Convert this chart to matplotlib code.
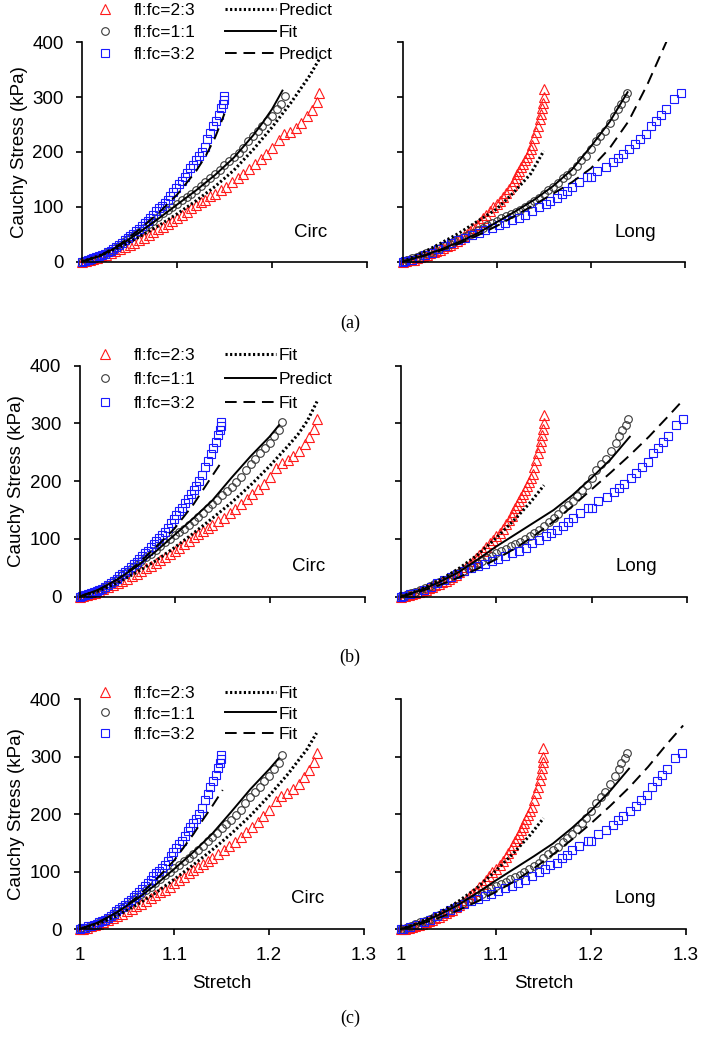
import numpy as np
import matplotlib.pyplot as plt

plt.rcParams['font.family'] = ['Liberation Sans', 'DejaVu Sans']

# ---------------- measured data (same in all three rows) ----------------
# circumferential direction
red_circ_s = [1.000, 1.004, 1.008, 1.012, 1.016, 1.020, 1.025, 1.030, 1.035, 1.040, 1.045, 1.050,
              1.055, 1.060, 1.065, 1.070, 1.075, 1.080, 1.085, 1.090, 1.095, 1.100, 1.105, 1.110,
              1.115, 1.120, 1.125, 1.130, 1.135, 1.140, 1.146, 1.152, 1.158, 1.164, 1.170, 1.176,
              1.182, 1.188, 1.194, 1.200, 1.207, 1.213, 1.219, 1.225, 1.231, 1.237, 1.242, 1.247, 1.250]
red_circ_y = [0, 1, 3, 5, 7, 10, 13, 16, 20, 23, 27, 31,
              35, 40, 44, 49, 54, 59, 64, 69, 74, 80, 85, 91,
              97, 103, 108, 113, 119, 124, 131, 137, 145, 152, 160, 169,
              178, 187, 196, 208, 222, 232, 237, 244, 252, 265, 276, 291, 307]

black_circ_s = [1.000, 1.005, 1.010, 1.015, 1.020, 1.025, 1.030, 1.035, 1.040, 1.045, 1.050, 1.055,
                1.060, 1.065, 1.070, 1.075, 1.080, 1.085, 1.090, 1.095, 1.100, 1.105, 1.110, 1.115,
                1.120, 1.125, 1.130, 1.135, 1.140, 1.145, 1.150, 1.155, 1.160, 1.165, 1.170, 1.175,
                1.180, 1.185, 1.190, 1.195, 1.200, 1.205, 1.210, 1.2134]
black_circ_y = [0, 2, 4, 7, 11, 15, 20, 25, 31, 37, 43, 49,
                55, 61, 68, 74, 81, 88, 94, 100, 106, 112, 118, 124,
                131, 138, 145, 153, 160, 168, 176, 183, 190, 198, 208, 220,
                229, 238, 248, 257, 266, 279, 288, 303]

blue_circ_s = [1.000, 1.003, 1.006, 1.009, 1.012, 1.015, 1.018, 1.021, 1.024, 1.027, 1.030, 1.033,
               1.036, 1.039, 1.042, 1.045, 1.048, 1.051, 1.054, 1.057, 1.060, 1.063, 1.066, 1.069,
               1.072, 1.075, 1.078, 1.081, 1.084, 1.087, 1.090, 1.093, 1.096, 1.099, 1.102, 1.105,
               1.108, 1.111, 1.114, 1.117, 1.120, 1.123, 1.126, 1.129, 1.132, 1.135, 1.138, 1.141,
               1.144, 1.146, 1.148, 1.149, 1.149]
blue_circ_y = [0, 2, 3, 5, 6, 8, 10, 12, 14, 17, 20, 23,
               27, 31, 35, 39, 43, 47, 51, 56, 60, 65, 70, 75,
               80, 86, 92, 97, 102, 107, 112, 119, 127, 134, 141, 148,
               154, 162, 170, 177, 185, 192, 200, 210, 224, 235, 247, 257,
               268, 280, 288, 295, 303]

# longitudinal direction
red_long_s = [1.000, 1.004, 1.008, 1.012, 1.015, 1.019, 1.022, 1.026, 1.029, 1.033, 1.036, 1.040,
              1.043, 1.047, 1.050, 1.054, 1.058, 1.061, 1.065, 1.068, 1.072, 1.075, 1.079, 1.082,
              1.086, 1.089, 1.093, 1.096, 1.100, 1.104, 1.107, 1.110, 1.113, 1.116, 1.118, 1.120,
              1.122, 1.124, 1.126, 1.128, 1.130, 1.132, 1.134, 1.136, 1.138, 1.140, 1.142, 1.144,
              1.146, 1.147, 1.148, 1.149, 1.150, 1.150]
red_long_y = [0, 1, 3, 4, 6, 8, 10, 12, 15, 17, 20, 22,
              25, 28, 31, 34, 38, 42, 47, 51, 56, 61, 67, 73,
              79, 86, 93, 99, 105, 111, 118, 126, 133, 140, 147, 153,
              159, 165, 172, 178, 185, 191, 198, 205, 213, 225, 236, 248,
              260, 270, 280, 290, 300, 315]

black_long_s = [1.000, 1.005, 1.010, 1.015, 1.020, 1.025, 1.030, 1.035, 1.040, 1.045, 1.050, 1.055,
                1.060, 1.065, 1.070, 1.075, 1.080, 1.085, 1.090, 1.095, 1.100, 1.105, 1.110, 1.115,
                1.120, 1.125, 1.130, 1.135, 1.140, 1.145, 1.150, 1.155, 1.160, 1.165, 1.170, 1.175,
                1.180, 1.185, 1.190, 1.195, 1.200, 1.205, 1.210, 1.215, 1.220, 1.225, 1.229, 1.232,
                1.236, 1.238]
black_long_y = [0, 3, 6, 9, 12, 15, 18, 22, 25, 29, 33, 37,
                41, 45, 49, 53, 58, 62, 67, 71, 75, 79, 83, 87,
                91, 95, 100, 105, 110, 116, 123, 130, 137, 143, 152, 158,
                166, 174, 185, 193, 206, 220, 230, 239, 252, 266, 279, 288,
                298, 307]

blue_long_s = [1.000, 1.0025, 1.0096, 1.017, 1.024, 1.031, 1.038, 1.045, 1.052, 1.059, 1.0665, 1.0737,
               1.081, 1.088, 1.095, 1.102, 1.1093, 1.1164, 1.1235, 1.1306, 1.1377, 1.145, 1.152, 1.157,
               1.1637, 1.1697, 1.175, 1.180, 1.1875, 1.1964, 1.200, 1.207, 1.216, 1.2231, 1.2285, 1.2338,
               1.241, 1.247, 1.2527, 1.2587, 1.264, 1.2694, 1.2747, 1.280, 1.288, 1.2954]
blue_long_y = [0, 1, 4, 7, 12, 16, 23, 29, 34, 39, 44, 49,
               53, 57, 62, 66, 71, 76, 80, 85, 93, 99, 105, 111,
               116, 123, 129, 137, 145, 154, 154, 166, 172, 181, 189, 196,
               205, 215, 224, 233, 248, 257, 268, 279, 297, 307]

# ---------------- model curves ----------------
# (a)
a_circ_dot_s = [1.0, 1.02, 1.04, 1.06, 1.08, 1.10, 1.12, 1.14, 1.16, 1.18, 1.20, 1.22, 1.24, 1.25]
a_circ_dot_y = [0, 12, 27, 45, 65, 87, 111, 137, 167, 204, 245, 290, 340, 370]
a_circ_sol_s = [1.0, 1.02, 1.04, 1.06, 1.08, 1.10, 1.12, 1.14, 1.16, 1.18, 1.19, 1.20, 1.211]
a_circ_sol_y = [0, 11, 30, 53, 78, 104, 130, 158, 190, 230, 253, 278, 312]
a_circ_dash_s = [1.0, 1.02, 1.04, 1.06, 1.08, 1.10, 1.12, 1.13, 1.14, 1.15]
a_circ_dash_y = [0, 12, 32, 58, 88, 122, 165, 192, 226, 270]
a_long_dot_s = [1.0, 1.02, 1.04, 1.06, 1.08, 1.09, 1.10, 1.118, 1.136, 1.15]
a_long_dot_y = [0, 15, 33, 52, 74, 85, 96, 126, 160, 202]
a_long_sol_s = [1.0, 1.02, 1.04, 1.06, 1.08, 1.10, 1.12, 1.14, 1.16, 1.18, 1.20, 1.22, 1.239]
a_long_sol_y = [0, 10, 22, 36, 52, 72, 92, 113, 138, 168, 210, 255, 309]
a_long_dash_s = [1.0, 1.02, 1.04, 1.06, 1.08, 1.10, 1.12, 1.14, 1.16, 1.18, 1.20, 1.22, 1.24, 1.26, 1.28, 1.283]
a_long_dash_y = [0, 9, 20, 33, 48, 65, 84, 104, 124, 145, 170, 207, 256, 323, 400, 415]
# (b)
b_circ_dot_s = [1.0, 1.02, 1.04, 1.06, 1.08, 1.10, 1.12, 1.14, 1.16, 1.18, 1.20, 1.22, 1.23, 1.24, 1.25]
b_circ_dot_y = [0, 10, 24, 42, 62, 85, 110, 136, 163, 193, 226, 262, 281, 305, 338]
b_circ_sol_s = [1.0, 1.02, 1.04, 1.06, 1.08, 1.10, 1.12, 1.14, 1.16, 1.18, 1.20, 1.21]
b_circ_sol_y = [0, 12, 30, 52, 78, 107, 136, 167, 206, 243, 277, 297]
b_circ_dash_s = [1.0, 1.02, 1.04, 1.06, 1.08, 1.10, 1.12, 1.13, 1.14, 1.151]
b_circ_dash_y = [0, 12, 30, 55, 85, 118, 160, 185, 210, 237]
b_long_dot_s = [1.0, 1.02, 1.04, 1.06, 1.08, 1.10, 1.12, 1.136, 1.15]
b_long_dot_y = [0, 12, 28, 48, 72, 102, 135, 164, 193]
b_long_sol_s = [1.0, 1.02, 1.04, 1.06, 1.08, 1.10, 1.12, 1.14, 1.16, 1.18, 1.20, 1.22, 1.24]
b_long_sol_y = [0, 11, 25, 42, 64, 87, 108, 129, 150, 176, 206, 238, 277]
b_long_dash_s = [1.0, 1.02, 1.04, 1.06, 1.08, 1.10, 1.12, 1.14, 1.16, 1.18, 1.20, 1.22, 1.24, 1.26, 1.28, 1.295]
b_long_dash_y = [0, 9, 20, 33, 48, 65, 84, 106, 130, 157, 186, 215, 245, 277, 312, 339]
# (c)
c_circ_dot_s = [1.0, 1.02, 1.04, 1.06, 1.08, 1.10, 1.12, 1.14, 1.16, 1.18, 1.20, 1.22, 1.24, 1.25]
c_circ_dot_y = [0, 10, 24, 42, 63, 87, 112, 138, 166, 197, 232, 270, 313, 341]
c_circ_sol_s = [1.0, 1.02, 1.04, 1.06, 1.08, 1.10, 1.12, 1.14, 1.16, 1.18, 1.20, 1.21]
c_circ_sol_y = [0, 12, 30, 52, 77, 105, 134, 166, 204, 243, 278, 297]
c_circ_dash_s = [1.0, 1.02, 1.04, 1.06, 1.08, 1.10, 1.12, 1.13, 1.14, 1.151]
c_circ_dash_y = [0, 12, 30, 55, 85, 120, 165, 190, 214, 242]
c_long_dot_s = [1.0, 1.02, 1.04, 1.06, 1.08, 1.10, 1.12, 1.136, 1.15]
c_long_dot_y = [0, 12, 28, 48, 72, 102, 135, 164, 193]
c_long_sol_s = [1.0, 1.02, 1.04, 1.06, 1.08, 1.10, 1.12, 1.14, 1.16, 1.18, 1.20, 1.22, 1.24]
c_long_sol_y = [0, 11, 25, 42, 63, 85, 106, 127, 149, 176, 206, 240, 279]
c_long_dash_s = [1.0, 1.02, 1.04, 1.06, 1.08, 1.10, 1.12, 1.14, 1.16, 1.18, 1.20, 1.22, 1.24, 1.26, 1.28, 1.297]
c_long_dash_y = [0, 9, 20, 33, 48, 65, 84, 106, 130, 156, 184, 214, 246, 282, 322, 354]

group_labels = ['fl:fc=2:3', 'fl:fc=1:1', 'fl:fc=3:2']
line_labels = [['Predict', 'Fit', 'Predict'],
               ['Fit', 'Predict', 'Fit'],
               ['Fit', 'Fit', 'Fit']]
panel_tags = ['(a)', '(b)', '(c)']
xticks = [1.0, 1.1, 1.2, 1.3]
xtick_labels = ['1', '1.1', '1.2', '1.3']
yticks = [0, 100, 200, 300, 400]

circ_lines = [
    [(a_circ_dot_s, a_circ_dot_y), (a_circ_sol_s, a_circ_sol_y), (a_circ_dash_s, a_circ_dash_y)],
    [(b_circ_dot_s, b_circ_dot_y), (b_circ_sol_s, b_circ_sol_y), (b_circ_dash_s, b_circ_dash_y)],
    [(c_circ_dot_s, c_circ_dot_y), (c_circ_sol_s, c_circ_sol_y), (c_circ_dash_s, c_circ_dash_y)],
]
long_lines = [
    [(a_long_dot_s, a_long_dot_y), (a_long_sol_s, a_long_sol_y), (a_long_dash_s, a_long_dash_y)],
    [(b_long_dot_s, b_long_dot_y), (b_long_sol_s, b_long_sol_y), (b_long_dash_s, b_long_dash_y)],
    [(c_long_dot_s, c_long_dot_y), (c_long_sol_s, c_long_sol_y), (c_long_dash_s, c_long_dash_y)],
]

# ---------------- styling ----------------
RED = '#ff1a1a'
BLUE = '#1a1aff'
GREY = '#3a3a3a'
mk_styles = [dict(marker='^', ms=6.5, mec=RED), dict(marker='o', ms=5.5, mec=GREY),
             dict(marker='s', ms=5.5, mec=BLUE)]
ln_styles = [dict(ls=(0, (0.7, 0.8)), lw=2.2), dict(ls='-', lw=1.4), dict(ls=(0, (6, 3.5)), lw=1.4)]

W, H = 701, 1049
fig = plt.figure(figsize=(W / 100, H / 100), dpi=100)

# pixel boxes: (left x0, left x1, right x0, right x1, y top, y bottom)
boxes = [(82, 367, 402.5, 685, 42.3, 261.7),
         (79.5, 364.5, 401, 687, 365.7, 596.7),
         (79.5, 364, 401, 686, 699, 929.3)]
legend_tops = [3, 348, 686]
legend_spacing = [0.38, 0.5, 0.3]
tag_y = [323, 657, 1018]


def add_ax(x0, x1, yt, yb):
    return fig.add_axes([x0 / W, 1 - yb / H, (x1 - x0) / W, (yb - yt) / H])


def plot_panel(ax, data, lines, word, word_x, show_y, show_x):
    for (s, y), st in zip(data, mk_styles):
        ax.plot(s, y, ls='none', mfc='none', mew=0.8, clip_on=False, zorder=2, **st)
    for (s, y), st in zip(lines, ln_styles):
        ax.plot(s, y, color='black', zorder=3, **st)
    ax.set_xlim(1.0, 1.3)
    ax.set_ylim(0, 400)
    for side in ['top', 'right']:
        ax.spines[side].set_visible(False)
    for side in ['left', 'bottom']:
        ax.spines[side].set_linewidth(1.2)
    ax.set_xticks(xticks)
    ax.set_yticks(yticks)
    ax.tick_params(direction='out', length=4, width=1.2, labelsize=13.5, pad=9)
    if show_x:
        ax.set_xticklabels(xtick_labels)
        ax.set_xlabel('Stretch', fontsize=13.5, labelpad=8)
    else:
        ax.set_xticklabels([])
    if show_y:
        ax.set_ylabel('Cauchy Stress (kPa)', fontsize=13.5)
        ax.yaxis.set_label_coords(-0.19, 0.5)
    else:
        ax.set_yticklabels([])
    ax.text(word_x, 53, word, fontsize=13.5, ha='center', va='center')


circ_data = [(red_circ_s, red_circ_y), (black_circ_s, black_circ_y), (blue_circ_s, blue_circ_y)]
long_data = [(red_long_s, red_long_y), (black_long_s, black_long_y), (blue_long_s, blue_long_y)]

for r in range(3):
    lx0, lx1, rx0, rx1, yt, yb = boxes[r]
    axl = add_ax(lx0, lx1, yt, yb)
    axr = add_ax(rx0, rx1, yt, yb)
    plot_panel(axl, circ_data, circ_lines[r], 'Circ', 1.241, True, r == 2)
    plot_panel(axr, long_data, long_lines[r], 'Long', 1.247, False, r == 2)

    # legend: markers in first column, line types in second
    handles = []
    for st in mk_styles:
        h, = axl.plot([], [], ls='none', mfc='none', mew=0.8, **st)
        handles.append(h)
    for st in ln_styles:
        h, = axl.plot([], [], color='black', **st)
        handles.append(h)
    labels = group_labels + line_labels[r]
    fig.legend(handles, labels, loc='upper left', bbox_to_anchor=(80 / W, 1 - legend_tops[r] / H),
               ncol=2, frameon=False, fontsize=12.5, handlelength=2.9, handletextpad=0.2,
               columnspacing=1.7, labelspacing=legend_spacing[r], borderpad=0, borderaxespad=0,
               numpoints=1)

    fig.text(350 / W, 1 - tag_y[r] / H, panel_tags[r], ha='center', va='center',
             family='Liberation Serif', fontsize=13)

fig.savefig('out.png', dpi=100)
